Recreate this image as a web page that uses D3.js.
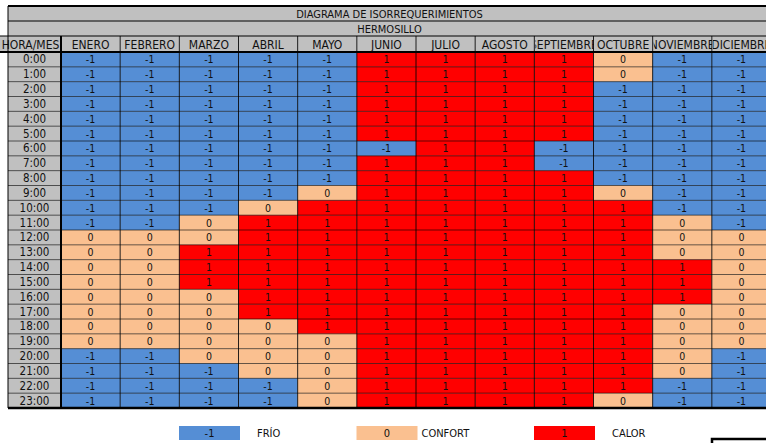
<!DOCTYPE html>
<html><head><meta charset="utf-8">
<script src="https://cdn.jsdelivr.net/npm/d3@7"></script>
<style>body{margin:0;background:#fff;overflow:hidden}svg{display:block}text{font-family:"Liberation Sans Narrow","DejaVu Sans Condensed",sans-serif}</style>
</head><body><svg id="c" width="766" height="443"></svg>
<script>
const title = "DIAGRAMA DE ISORREQUERIMIENTOS";
const subtitle = "HERMOSILLO";
const cornerLabel = "HORA/MES";
const months = ["ENERO","FEBRERO","MARZO","ABRIL","MAYO","JUNIO","JULIO","AGOSTO","SEPTIEMBRE","OCTUBRE","NOVIEMBRE","DICIEMBRE"];
const hours = ["0:00","1:00","2:00","3:00","4:00","5:00","6:00","7:00","8:00","9:00","10:00","11:00","12:00","13:00","14:00","15:00","16:00","17:00","18:00","19:00","20:00","21:00","22:00","23:00"];
const values = [
 [-1,-1,-1,-1,-1,1,1,1,1,0,-1,-1],
 [-1,-1,-1,-1,-1,1,1,1,1,0,-1,-1],
 [-1,-1,-1,-1,-1,1,1,1,1,-1,-1,-1],
 [-1,-1,-1,-1,-1,1,1,1,1,-1,-1,-1],
 [-1,-1,-1,-1,-1,1,1,1,1,-1,-1,-1],
 [-1,-1,-1,-1,-1,1,1,1,1,-1,-1,-1],
 [-1,-1,-1,-1,-1,-1,1,1,-1,-1,-1,-1],
 [-1,-1,-1,-1,-1,1,1,1,-1,-1,-1,-1],
 [-1,-1,-1,-1,-1,1,1,1,1,-1,-1,-1],
 [-1,-1,-1,-1,0,1,1,1,1,0,-1,-1],
 [-1,-1,-1,0,1,1,1,1,1,1,-1,-1],
 [-1,-1,0,1,1,1,1,1,1,1,0,-1],
 [0,0,0,1,1,1,1,1,1,1,0,0],
 [0,0,1,1,1,1,1,1,1,1,0,0],
 [0,0,1,1,1,1,1,1,1,1,1,0],
 [0,0,1,1,1,1,1,1,1,1,1,0],
 [0,0,0,1,1,1,1,1,1,1,1,0],
 [0,0,0,1,1,1,1,1,1,1,0,0],
 [0,0,0,0,1,1,1,1,1,1,0,0],
 [0,0,0,0,0,1,1,1,1,1,0,0],
 [-1,-1,0,0,0,1,1,1,1,1,0,-1],
 [-1,-1,-1,0,0,1,1,1,1,1,0,-1],
 [-1,-1,-1,-1,0,1,1,1,1,1,-1,-1],
 [-1,-1,-1,-1,0,1,1,1,1,0,-1,-1]
];
const legendValues = [-1,0,1];
const legendLabels = ["FRÍO","CONFORT","CALOR"];

const svg = d3.select("#c");
const left = 8, hourRight = 61, right = 771;
const yTop = 6, yTitle2 = 21, yHead = 36, yData = 52, yBottom = 408;
const x = d3.scaleBand().domain(months).range([hourRight, right]);
const y = d3.scaleBand().domain(hours).range([yData, yBottom]);
const color = d3.scaleOrdinal().domain([-1,0,1]).range(["#558ED5","#FAC090","#FF0000"]);
const gray = "#C0C0C0";

const defs = svg.append("defs");

// title rows
svg.append("rect").attr("x",left).attr("y",yTop).attr("width",right-left).attr("height",yHead-yTop).attr("fill",gray);
svg.append("text").attr("x",(left+right)/2).attr("y",(yTop+yTitle2)/2+4).attr("text-anchor","middle").attr("font-size",11).attr("fill","#111").text(title);
svg.append("text").attr("x",(left+right)/2).attr("y",(yTitle2+yHead)/2+4).attr("text-anchor","middle").attr("font-size",11).attr("fill","#111").text(subtitle);

// header row
svg.append("rect").attr("x",0).attr("y",yHead).attr("width",right).attr("height",yData-yHead).attr("fill",gray);
defs.append("clipPath").attr("id","clipCorner").append("rect").attr("x",0).attr("y",yHead).attr("width",hourRight).attr("height",yData-yHead);
svg.append("text").attr("clip-path","url(#clipCorner)").attr("x",(left+hourRight)/2-4).attr("y",(yHead+yData)/2+4.5).attr("text-anchor","middle").attr("font-size",12).attr("fill","#111").text(cornerLabel);
months.forEach((m,i)=>{
  defs.append("clipPath").attr("id","clipM"+i).append("rect").attr("x",x(m)+1).attr("y",yHead).attr("width",x.bandwidth()-1).attr("height",yData-yHead);
  svg.append("text").attr("clip-path","url(#clipM"+i+")").attr("x",x(m)+x.bandwidth()/2).attr("y",(yHead+yData)/2+4.5).attr("text-anchor","middle").attr("font-size",12).attr("fill","#111").text(m);
});

// hour column
svg.append("rect").attr("x",left).attr("y",yData).attr("width",hourRight-left).attr("height",yBottom-yData).attr("fill",gray);
svg.selectAll("text.hour").data(hours).enter().append("text").attr("class","hour")
  .attr("x",(left+hourRight)/2).attr("y",d=>y(d)+y.bandwidth()/2+4).attr("text-anchor","middle").attr("font-size",11.5).attr("fill","#111").text(d=>d);

// cells
const cells = [];
values.forEach((row,r)=>row.forEach((v,c)=>cells.push({h:hours[r],m:months[c],v})));
svg.selectAll("rect.cell").data(cells).enter().append("rect").attr("class","cell")
  .attr("x",d=>x(d.m)).attr("y",d=>y(d.h)).attr("width",x.bandwidth()).attr("height",y.bandwidth()).attr("fill",d=>color(d.v));
svg.selectAll("text.val").data(cells).enter().append("text").attr("class","val")
  .attr("x",d=>x(d.m)+x.bandwidth()/2).attr("y",d=>y(d.h)+y.bandwidth()/2+4).attr("text-anchor","middle").attr("font-size",10.5).attr("fill","#111").text(d=>d.v);

// grid lines
const g = svg.append("g");
hours.forEach((h,i)=>{ if(i>0) g.append("line").attr("x1",left).attr("x2",right).attr("y1",y(h)).attr("y2",y(h)).attr("stroke","#000").attr("stroke-opacity",0.6).attr("stroke-width",1); });
months.forEach((m,i)=>{ if(i>0) g.append("line").attr("x1",x(m)).attr("x2",x(m)).attr("y1",yHead).attr("y2",yBottom).attr("stroke","#000").attr("stroke-opacity",0.85).attr("stroke-width",1); });
g.append("line").attr("x1",hourRight).attr("x2",hourRight).attr("y1",yHead).attr("y2",yBottom).attr("stroke","#000").attr("stroke-width",2);
g.append("line").attr("x1",left).attr("x2",right).attr("y1",yTitle2).attr("y2",yTitle2).attr("stroke","#000").attr("stroke-width",1);
g.append("line").attr("x1",0).attr("x2",right).attr("y1",yHead).attr("y2",yHead).attr("stroke","#000").attr("stroke-width",1);
g.append("line").attr("x1",0).attr("x2",right).attr("y1",yData).attr("y2",yData).attr("stroke","#000").attr("stroke-width",2);
g.append("line").attr("x1",left).attr("x2",right).attr("y1",yTop).attr("y2",yTop).attr("stroke","#000").attr("stroke-width",2);
g.append("line").attr("x1",left).attr("x2",right).attr("y1",yBottom).attr("y2",yBottom).attr("stroke","#000").attr("stroke-width",2.5);
g.append("line").attr("x1",left).attr("x2",left).attr("y1",yTop).attr("y2",yBottom).attr("stroke","#000").attr("stroke-width",1);

// legend
const lx = d3.scalePoint().domain(legendValues).range([179, 534]);
const lg = svg.append("g");
legendValues.forEach((v,i)=>{
  lg.append("rect").attr("x",lx(v)).attr("y",426).attr("width",61).attr("height",14).attr("fill",color(v));
  lg.append("text").attr("x",lx(v)+30.5).attr("y",437).attr("text-anchor","middle").attr("font-size",11).attr("fill","#111").text(v);
  lg.append("text").attr("x",lx(v)+(i===1?65:78)).attr("y",437).attr("font-size",11).attr("fill","#111").text(legendLabels[i]);
});
// partial box at bottom right
svg.append("path").attr("d","M712,443 V439 H766").attr("fill","none").attr("stroke","#000").attr("stroke-width",2.5);
</script></body></html>
